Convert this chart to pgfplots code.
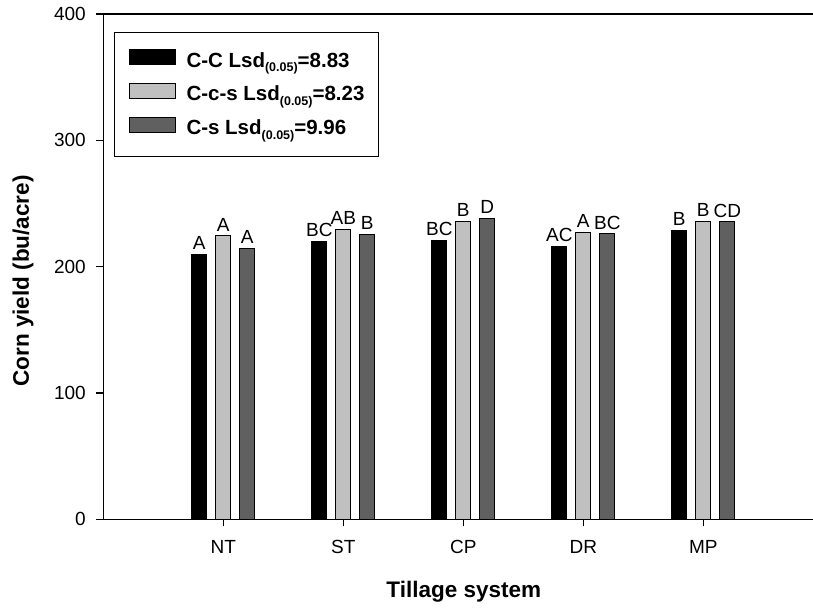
\documentclass[border=0pt]{standalone}
\usepackage{pgfplots}
\pgfplotsset{compat=1.18}
\usepackage{fontspec}
\setmainfont{Liberation Sans}

\definecolor{lgray}{RGB}{192,192,192}
\definecolor{dgray}{RGB}{96,96,96}

\newcommand{\lsd}{\raisebox{-4.5pt}{\fontsize{12.5}{13}\selectfont\bfseries(0.05)}}

\begin{document}
\begin{tikzpicture}
\useasboundingbox (-103.3pt,-88.7pt) rectangle (709.7pt,519.3pt);
\begin{axis}[
    scale only axis,
    width=709.7pt, height=505.3pt,
    xmin=0, xmax=5.914,
    ymin=0, ymax=400,
    axis x line=box,
    axis y line=left,
    y axis line style={-},
    x axis line style={-},
    axis line style={line width=1.2pt},
    xtick pos=bottom, ytick pos=left,
    tick align=outside,
    major tick length=7pt,
    tick style={line width=1.2pt, black},
    xtick={1,2,3,4,5},
    xticklabels={NT,ST,CP,DR,MP},
    ytick={0,100,200,300,400},
    ticklabel style={font=\fontsize{19}{22}\selectfont, inner sep=0pt},
    /pgf/number format/assume math mode=true,
    yticklabel style={anchor=east, xshift=-10.3pt},
    xticklabel style={anchor=north, yshift=-13.7pt},
    xlabel={Tillage system},
    ylabel={Corn yield (bu/acre)},
    every axis x label/.style={at={(axis description cs:0.508,-0.1538)}, anchor=base,
        font=\fontsize{22.5}{26}\selectfont\bfseries},
    every axis y label/.style={at={(axis description cs:-0.1131,0.4716)}, rotate=90, anchor=center,
        font=\fontsize{22.5}{26}\selectfont\bfseries},
    ybar=9pt, bar width=15pt,
    every axis plot/.append style={draw=black, line width=1pt},
    point meta=explicit symbolic,
    nodes near coords,
    every node near coord/.append style={font=\fontsize{19}{22}\selectfont, inner sep=0pt, anchor=south, yshift=4pt, black},
    legend style={
        at={(axis description cs:0.0155,0.965)}, anchor=north west,
        draw=black, line width=1pt,
        font=\fontsize{20.5}{23}\selectfont\bfseries,
        inner xsep=14pt, inner ysep=17pt,
        row sep=11pt,
        nodes={inner sep=0pt, text height=15pt, text depth=5pt},
        /tikz/every odd column/.append style={column sep=10.7pt},
    },
    legend cell align=left,
    legend image code/.code={\draw[#1,/tikz/.cd,line width=1pt] (0pt,-2.6pt) rectangle (46pt,12.4pt);},
]
\addplot[fill=black] coordinates {(1,210) [A] (2,220) [BC] (3,221) [BC] (4,216.2) [AC] (5,229) [B]};
\addplot[fill=lgray] coordinates {(1,224.6) [A] (2,229.7) [AB] (3,236) [B] (4,227.3) [A] (5,236) [B]};
\addplot[fill=dgray] coordinates {(1,214.4) [A] (2,225.7) [B] (3,238.2) [D] (4,226) [BC] (5,235.5) [CD]};
\legend{C-C Lsd\lsd=8.83, C-c-s Lsd\lsd=8.23, C-s Lsd\lsd=9.96}
\end{axis}
\end{tikzpicture}
\end{document}
